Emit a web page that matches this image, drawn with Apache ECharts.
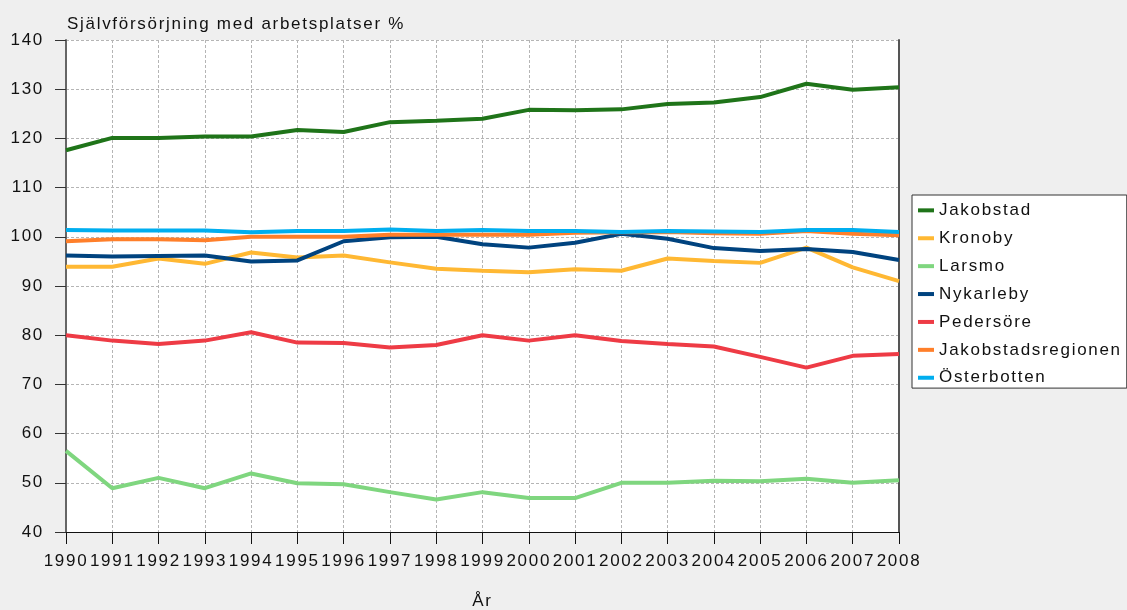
<!DOCTYPE html>
<html>
<head>
<meta charset="utf-8">
<script src="https://cdn.jsdelivr.net/npm/echarts@6/dist/echarts.min.js"></script>
<style>
  html, body { margin: 0; padding: 0; background: #efefef; }
  #chart { width: 1127px; height: 610px; }
</style>
</head>
<body>
<div id="chart"></div>
<script>
const years = ['1990', '1991', '1992', '1993', '1994', '1995', '1996', '1997', '1998', '1999',
               '2000', '2001', '2002', '2003', '2004', '2005', '2006', '2007', '2008'];

const jakobstad = [117.6, 120.1, 120.1, 120.4, 120.4, 121.7, 121.3, 123.3, 123.6, 124.0,
                   125.8, 125.7, 125.9, 127.0, 127.3, 128.4, 131.1, 129.9, 130.4];
const kronoby = [93.9, 93.9, 95.6, 94.5, 96.8, 95.8, 96.2, 94.8, 93.5, 93.1,
                 92.8, 93.4, 93.1, 95.6, 95.1, 94.7, 97.8, 93.8, 91.0];
const larsmo = [56.5, 48.9, 51.0, 48.9, 51.9, 49.9, 49.7, 48.1, 46.6, 48.1,
                46.9, 46.9, 50.0, 50.0, 50.4, 50.3, 50.8, 50.0, 50.5];
const nykarleby = [96.2, 96.0, 96.1, 96.2, 95.0, 95.2, 99.1, 99.9, 100.0, 98.5,
                   97.8, 98.8, 100.6, 99.6, 97.7, 97.1, 97.5, 96.9, 95.3];
const pedersore = [80.0, 78.9, 78.2, 78.9, 80.6, 78.5, 78.4, 77.5, 78.0, 80.0,
                   78.9, 80.0, 78.8, 78.2, 77.7, 75.6, 73.4, 75.8, 76.2];
const regionen = [99.1, 99.5, 99.5, 99.3, 100.0, 100.0, 100.0, 100.4, 100.4, 100.4,
                  100.4, 100.8, 100.9, 101.0, 100.7, 100.6, 101.2, 100.6, 100.3];
const osterbotten = [101.4, 101.3, 101.3, 101.3, 100.9, 101.2, 101.2, 101.5, 101.2, 101.4,
                     101.2, 101.2, 101.0, 101.2, 101.1, 101.0, 101.4, 101.4, 101.0];

const seriesNames = ['Jakobstad', 'Kronoby', 'Larsmo', 'Nykarleby', 'Pedersöre', 'Jakobstadsregionen', 'Österbotten'];
const seriesData = [jakobstad, kronoby, larsmo, nykarleby, pedersore, regionen, osterbotten];
const seriesColors = ['#1f7419', '#ffb833', '#7fd67f', '#00437f', '#ee3b45', '#ff7f2a', '#00aeef'];

const yTicks = { min: 40, max: 140, interval: 10 };
const font = '"Liberation Sans", Arial, sans-serif';

// the original chart uses slightly tracked text; canvas supports letterSpacing,
// so apply it whenever a font is set (also used for measuring)
const fontDesc = Object.getOwnPropertyDescriptor(CanvasRenderingContext2D.prototype, 'font');
if (fontDesc && 'letterSpacing' in CanvasRenderingContext2D.prototype) {
    Object.defineProperty(CanvasRenderingContext2D.prototype, 'font', {
        configurable: true,
        get: function() { return fontDesc.get.call(this); },
        set: function(v) { fontDesc.set.call(this, v); this.letterSpacing = '1.7px'; }
    });
}

const chart = echarts.init(document.getElementById('chart'));
const option = {
    backgroundColor: '#efefef',
    animation: false,
    title: {
        text: 'Självförsörjning med arbetsplatser %',
        left: 62,
        top: 10,
        textStyle: { fontFamily: font, fontSize: 17, fontWeight: 'normal', color: '#111' }
    },
    legend: {
        orient: 'vertical',
        left: 912,
        top: 195,
        data: seriesNames,
        icon: 'rect',
        itemWidth: 16,
        itemHeight: 4,
        itemGap: 9.2,
        backgroundColor: '#fff',
        borderColor: '#333',
        borderWidth: 1,
        borderRadius: 0,
        padding: [6, 5, 1, 6],
        textStyle: { fontFamily: font, fontSize: 17, color: '#111', lineHeight: 17 }
    },
    grid: {
        left: 66, right: 228, top: 40, bottom: 78,
        outerBoundsMode: 'none',
        show: true,
        backgroundColor: '#fff',
        borderWidth: 0
    },
    xAxis: {
        type: 'category',
        data: years,
        boundaryGap: false,
        name: 'År',
        nameLocation: 'middle',
        nameGap: 60,
        nameTextStyle: { fontFamily: font, fontSize: 17, color: '#111' },
        axisLine: { lineStyle: { color: '#111', width: 1 } },
        axisTick: { show: true, length: 12, interval: 0, lineStyle: { color: '#111' } },
        axisLabel: { interval: 0, hideOverlap: false, margin: 20, fontFamily: font, fontSize: 17, color: '#111' },
        splitLine: { show: true, interval: 0, lineStyle: { color: '#b5b5b5', type: [3, 2] } }
    },
    yAxis: [{
        type: 'value',
        min: yTicks.min,
        max: yTicks.max,
        interval: yTicks.interval,
        axisLine: { show: true, lineStyle: { color: '#666', width: 2 } },
        axisTick: { show: true, length: 11, lineStyle: { color: '#333' } },
        axisLabel: { margin: 22, fontFamily: font, fontSize: 17, color: '#111' },
        splitLine: { show: true, lineStyle: { color: '#b5b5b5', type: [3, 2] } }
    }, {
        type: 'value',
        position: 'right',
        min: yTicks.min,
        max: yTicks.max,
        interval: yTicks.interval,
        axisLine: { show: true, lineStyle: { color: '#555', width: 2 } },
        axisTick: { show: false },
        axisLabel: { show: false },
        splitLine: { show: false }
    }],
    series: seriesNames.map((name, i) => ({
        name: name,
        type: 'line',
        data: seriesData[i],
        symbol: 'none',
        color: seriesColors[i],
        lineStyle: { color: seriesColors[i], width: 4 }
    }))
};
chart.setOption(option);
window.addEventListener('resize', () => chart.resize());
</script>
</body>
</html>
